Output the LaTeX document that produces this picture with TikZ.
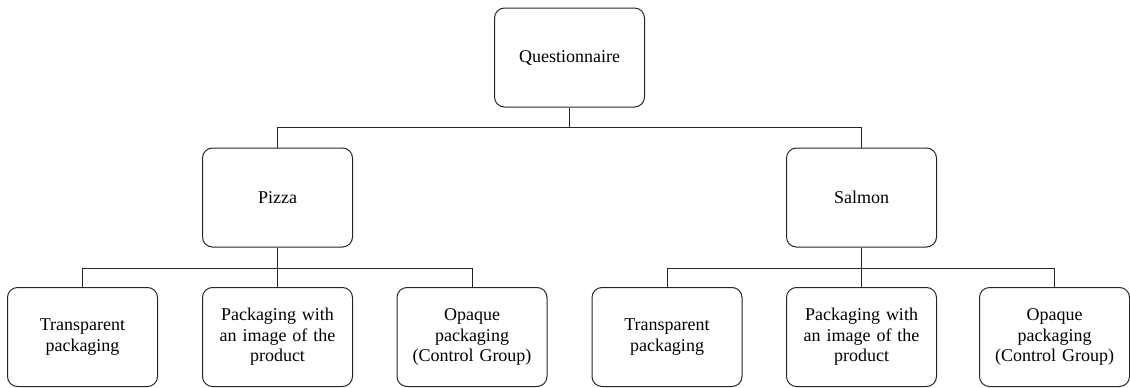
\documentclass[tikz,border=0pt]{standalone}
\usepackage{fontspec}
\setmainfont{Liberation Serif}
\begin{document}
\begin{tikzpicture}[x=1pt,y=-1pt,
  box/.style={draw=black!85, line width=1pt, rounded corners=10pt,
    minimum width=150pt, minimum height=99pt, inner sep=2pt,
    align=center, text width=144pt,
    font=\rmfamily\fontsize{18}{20.5}\selectfont},
  link/.style={draw=black!85, line width=1pt}]
\useasboundingbox (0,0) rectangle (1130,388);

% top level
\node[box] (q) at (569.5,57.5) {Questionnaire};

% product level
\node[box] (pizza) at (277.5,197.5) {Pizza};
\node[box] (salmon) at (861.5,197.5) {Salmon};

% packaging conditions
\node[box] (p1) at (82.5,337) {Transparent\\packaging};
\node[box] (p2) at (277.5,337) {Packaging with\\an image of the\\product};
\node[box] (p3) at (472,337) {Opaque\\packaging\\(Control Group)};
\node[box] (s1) at (667,337) {Transparent\\packaging};
\node[box] (s2) at (861.5,337) {Packaging with\\an image of the\\product};
\node[box] (s3) at (1054.5,337) {Opaque\\packaging\\(Control Group)};

% bus lines
\coordinate (qbus) at (569.5,127.5);
\coordinate (pbus) at (277.5,268);
\coordinate (sbus) at (861.5,268);

\draw[link] (q.south) -- (qbus);
\draw[link] (qbus) -| (pizza.north);
\draw[link] (qbus) -| (salmon.north);

\draw[link] (pizza.south) -- (p2.north);
\draw[link] (pbus) -| (p1.north);
\draw[link] (pbus) -| (p3.north);

\draw[link] (salmon.south) -- (s2.north);
\draw[link] (sbus) -| (s1.north);
\draw[link] (sbus) -| (s3.north);
\end{tikzpicture}
\end{document}
